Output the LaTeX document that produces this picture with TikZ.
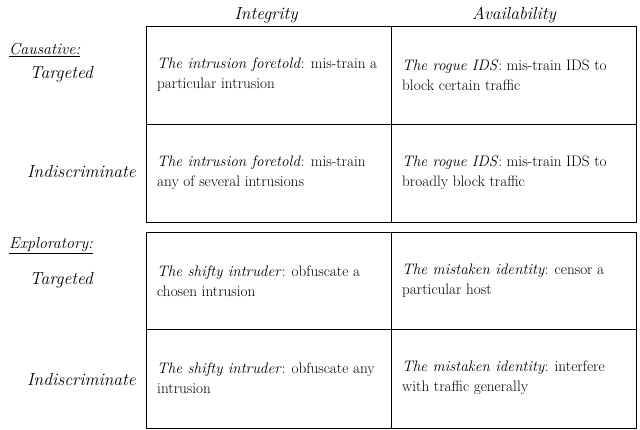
\documentclass[tikz,border=0pt]{standalone}
\begin{document}
\begin{tikzpicture}[x=1pt,y=-1pt,
  cell/.style={anchor=west,align=left,font=\fontsize{15.2}{20}\selectfont,inner sep=0pt},
  hdr/.style={font=\fontsize{17.5}{20}\selectfont\itshape,inner sep=0pt},
  sec/.style={font=\fontsize{16}{18}\selectfont\itshape,inner sep=0pt,anchor=west},
  box/.style={draw,line width=1pt}]
\useasboundingbox (0,0) rectangle (640,429);
\draw[box] (146,26) rectangle (636,222);
\draw[box] (391,26) -- (391,222);
\draw[box] (146,124) -- (636,124);
\draw[box] (146,232) rectangle (636,428);
\draw[box] (391,232) -- (391,428);
\draw[box] (146,329) -- (636,329);
\node[hdr] (h1) at (266,15) {Integrity};
\node[hdr] (h2) at (514,15) {Availability};
\node[sec] (c) at (9,50) {\underline{Causative:}};
\node[hdr,anchor=east] (c1) at (93,74) {Targeted};
\node[hdr,anchor=east] (c2) at (136,172) {Indiscriminate};
\node[sec] (e) at (9,246) {\underline{Exploratory:}};
\node[hdr,anchor=east] (e1) at (93,280) {Targeted};
\node[hdr,anchor=east] (e2) at (136,380) {Indiscriminate};
\node[cell] (a) at (157,75) {\textit{The intrusion foretold}: mis-train a\\particular intrusion};
\node[cell] (b) at (402,75) {\textit{The rogue IDS}: mis-train IDS to\\block certain traffic};
\node[cell] (cc) at (157,173) {\textit{The intrusion foretold}: mis-train\\any of several intrusions};
\node[cell] (d) at (402,173) {\textit{The rogue IDS}: mis-train IDS to\\broadly block traffic};
\node[cell] (f) at (157,281) {\textit{The shifty intruder}: obfuscate a\\chosen intrusion};
\node[cell] (g) at (402,281) {\textit{The mistaken identity}: censor a\\particular host};
\node[cell] (h) at (157,378) {\textit{The shifty intruder}: obfuscate any\\intrusion};
\node[cell] (i) at (402,378) {\textit{The mistaken identity}: interfere\\with traffic generally};
\end{tikzpicture}
\end{document}
